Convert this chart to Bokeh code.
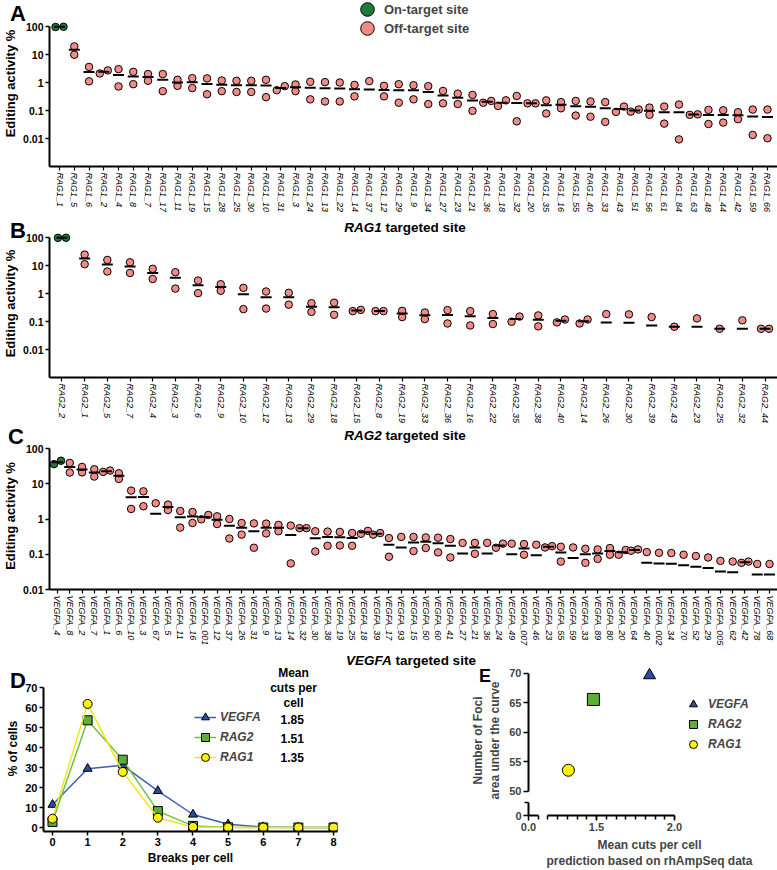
import numpy as np
from bokeh.plotting import figure
from bokeh.layouts import column, row
from bokeh.models import (FactorRange, Range1d, FixedTicker, CustomJSTickFormatter, LinearAxis,
                          Label, Legend, LegendItem, Div)
from bokeh.embed import file_html
from bokeh.resources import INLINE

FONT = "Liberation Sans"
PINK = "#f28b86"
ONT = "#1f7b3d"
NAN = float("nan")

# ---------------- Panel A data ----------------
rag1_sites = ["RAG1_1", "RAG1_5", "RAG1_6", "RAG1_2", "RAG1_4", "RAG1_8", "RAG1_7", "RAG1_17",
              "RAG1_11", "RAG1_19", "RAG1_15", "RAG1_28", "RAG1_25", "RAG1_30", "RAG1_10", "RAG1_31",
              "RAG1_3", "RAG1_24", "RAG1_13", "RAG1_22", "RAG1_14", "RAG1_37", "RAG1_12", "RAG1_29",
              "RAG1_9", "RAG1_34", "RAG1_27", "RAG1_23", "RAG1_21", "RAG1_36", "RAG1_18", "RAG1_32",
              "RAG1_20", "RAG1_35", "RAG1_16", "RAG1_55", "RAG1_40", "RAG1_33", "RAG1_43", "RAG1_51",
              "RAG1_56", "RAG1_61", "RAG1_84", "RAG1_63", "RAG1_48", "RAG1_44", "RAG1_42", "RAG1_59",
              "RAG1_66"]
rag1_rep1 = [96, 19.5, 3.6, 2.1, 3.0, 2.4, 2.0, 2.0, 1.25, 1.43, 1.4, 1.18, 1.15, 1.15, 1.25, 0.53,
             0.85, 1.06, 1.03, 1.0, 0.82, 1.12, 0.76, 0.87, 0.8, 0.74, 0.5, 0.4, 0.36, 0.19, 0.146, 0.33,
             0.18, 0.23, 0.12, 0.22, 0.21, 0.2, 0.089, 0.091, 0.127, 0.138, 0.163, 0.07, 0.105, 0.102,
             0.087, 0.108, 0.108]
rag1_rep2 = [98, 9.8, 1.1, 2.7, 0.72, 0.87, 1.15, 0.49, 0.76, 0.63, 0.38, 0.49, 0.46, 0.46, 0.3, 0.74,
             0.49, 0.25, 0.21, 0.21, 0.32, 0.0, 0.32, 0.19, 0.25, 0.17, 0.18, 0.17, 0.097, 0.22, 0.23, 0.041,
             0.18, 0.078, 0.2, 0.066, 0.06, 0.039, 0.138, 0.108, 0.07, 0.034, 0.0093, 0.073, 0.033, 0.037,
             0.049, 0.0134, 0.0102]

# ---------------- Panel B data ----------------
rag2_sites = ["RAG2_2", "RAG2_1", "RAG2_5", "RAG2_7", "RAG2_4", "RAG2_3", "RAG2_6", "RAG2_9",
              "RAG2_10", "RAG2_12", "RAG2_13", "RAG2_29", "RAG2_18", "RAG2_15", "RAG2_8", "RAG2_19",
              "RAG2_33", "RAG2_36", "RAG2_16", "RAG2_22", "RAG2_35", "RAG2_38", "RAG2_40", "RAG2_14",
              "RAG2_26", "RAG2_30", "RAG2_39", "RAG2_43", "RAG2_23", "RAG2_25", "RAG2_32", "RAG2_44"]
rag2_rep1 = [97, 24.5, 15.8, 13.0, 7.6, 5.75, 2.9, 2.15, 1.59, 1.18, 1.06, 0.45, 0.47, 0.235, 0.235,
             0.24, 0.21, 0.255, 0.235, 0.184, 0.098, 0.165, 0.093, 0.085, 0.184, 0.18, 0.144, 0.065,
             0.129, 0.055, 0.11, 0.055]
rag2_rep2 = [98, 11.1, 6.1, 5.4, 3.3, 1.5, 1.03, 1.25, 0.277, 0.29, 0.4, 0.22, 0.174, 0.26, 0.235,
             0.144, 0.122, 0.085, 0.072, 0.081, 0.15, 0.067, 0.118, 0.118, 0.0, 0.0, 0.0, NAN,
             0.0, NAN, 0.0, 0.055]

# ---------------- Panel C data ----------------
vegfa_sites = ["VEGFA_4", "VEGFA_8", "VEGFA_2", "VEGFA_7", "VEGFA_1", "VEGFA_6", "VEGFA_10", "VEGFA_3",
               "VEGFA_67", "VEGFA_5", "VEGFA_11", "VEGFA_16", "VEGFA_001", "VEGFA_12", "VEGFA_37",
               "VEGFA_26", "VEGFA_31", "VEGFA_9", "VEGFA_13", "VEGFA_14", "VEGFA_32", "VEGFA_30",
               "VEGFA_38", "VEGFA_19", "VEGFA_25", "VEGFA_18", "VEGFA_39", "VEGFA_17", "VEGFA_93",
               "VEGFA_15", "VEGFA_50", "VEGFA_60", "VEGFA_41", "VEGFA_27", "VEGFA_21", "VEGFA_36",
               "VEGFA_24", "VEGFA_49", "VEGFA_007", "VEGFA_46", "VEGFA_23", "VEGFA_55", "VEGFA_59",
               "VEGFA_33", "VEGFA_89", "VEGFA_80", "VEGFA_20", "VEGFA_64", "VEGFA_40", "VEGFA_002",
               "VEGFA_34", "VEGFA_70", "VEGFA_52", "VEGFA_29", "VEGFA_005", "VEGFA_62", "VEGFA_42",
               "VEGFA_78", "VEGFA_68"]
vegfa_rep1 = [36, 39, 30, 25.8, 21.7, 19.9, 6.4, 6.1, 2.8, 2.56, 1.69, 1.58, 0.98, 1.19, 1.0, 0.77,
              0.75, 0.74, 0.68, 0.65, 0.55, 0.45, 0.44, 0.43, 0.40, 0.38, 0.36, 0.288, 0.31, 0.31, 0.30,
              0.295, 0.27, 0.21, 0.21, 0.21, 0.153, 0.2, 0.195, 0.186, 0.156, 0.163, 0.156, 0.143, 0.137,
              0.15, 0.097, 0.126, 0.115, 0.11, 0.108, 0.097, 0.089, 0.081, 0.065, 0.062, 0.057, 0.053,
              0.053]
vegfa_rep2 = [45, 20.8, 21, 16, 23.7, 13.7, 1.93, 2.3, 0.0, 1.8, 0.57, 0.77, 1.3, 0.72, 0.28, 0.36,
              0.153, 0.39, 0.45, 0.055, 0.55, 0.12, 0.174, 0.178, 0.174, 0.46, 0.40, 0.085, 0.0, 0.123,
              0.15, 0.113, 0.081, 0.0, 0.103, 0.0, 0.2, 0.0, 0.097, 0.0, 0.17, 0.062, 0.0, 0.057, 0.074,
              0.097, 0.132, 0.137, 0.0, 0.0, 0.0, 0.0, 0.0, 0.0, 0.0, 0.0, 0.062, 0.0, 0.0]

# ---------------- Panel D data ----------------
breaks = [0, 1, 2, 3, 4, 5, 6, 7, 8]
vegfa_pct = [11.4, 29.4, 31.1, 18.3, 6.5, 1.6, 0.2, 0.0, 0.0]
rag2_pct = [2.8, 53.6, 33.9, 8.2, 0.8, 0.1, 0.0, 0.0, 0.0]
rag1_pct = [4.4, 61.8, 27.8, 4.9, 0.3, 0.0, 0.0, 0.0, 0.0]
genes = ["VEGFA", "RAG2", "RAG1"]
mean_cuts_text = ["1.85", "1.51", "1.35"]

# ---------------- Panel E data ----------------
e_mean_cuts = [1.84, 1.48, 1.32]
e_foci_auc = [69.7, 65.6, 53.6]

line_colors = {"VEGFA": "#3d5fb4", "RAG2": "#72bf45", "RAG1": "#f2e41e"}
fill_colors = {"VEGFA": "#2c4c9c", "RAG2": "#5cae3a", "RAG1": "#fff200"}
markers = {"VEGFA": "triangle", "RAG2": "square", "RAG1": "circle"}

FRAME_W = 728
LEFT = 44
RIGHT = 3


def style(p, tick_font="10.5px", label_font="13px"):
    p.outline_line_color = None
    p.grid.visible = False
    for ax in p.axis:
        ax.axis_line_width = 2
        ax.axis_line_color = "black"
        ax.major_tick_line_width = 1.5
        ax.major_tick_line_color = "black"
        ax.major_tick_in = 0
        ax.major_tick_out = 4
        ax.minor_tick_line_color = None
        ax.major_label_text_font = FONT
        ax.major_label_text_font_style = "bold"
        ax.major_label_text_font_size = tick_font
        ax.major_label_text_color = "black"
        ax.axis_label_text_font = FONT
        ax.axis_label_text_font_style = "bold"
        ax.axis_label_text_font_size = label_font
        ax.axis_label_text_color = "black"
        ax.major_label_standoff = 2
        ax.axis_label_standoff = 2


def add_text(p, x, y, text, size="12px", style_="bold", align="left", baseline="middle"):
    p.add_layout(Label(x=x, y=y, x_units="screen", y_units="screen", text=text,
                       text_font=FONT, text_font_size=size, text_font_style=style_,
                       text_align=align, text_baseline=baseline, text_color="black",
                       text_line_height=1.1))


def site_panel(sites, rep1, rep2, y_min, decade_px, top_ext, top_b, bottom_b, pad, dodge_px, thr):
    n = len(sites)
    decades = 2 - np.log10(y_min)
    frame_h = int(round(decades * decade_px + top_ext))
    y_max = 10 ** (2 + top_ext / decade_px)
    p = figure(x_range=FactorRange(factors=sites, range_padding=pad, range_padding_units="absolute"),
               y_range=Range1d(y_min, y_max), y_axis_type="log",
               frame_width=FRAME_W, frame_height=frame_h,
               min_border_left=LEFT, min_border_right=RIGHT, min_border_top=top_b,
               min_border_bottom=bottom_b, output_backend="svg", toolbar_location=None)
    style(p)
    d = dodge_px * (n + 2 * pad) / FRAME_W
    on_x, on_y, off_x, off_y, mx, my = [], [], [], [], [], []
    for i, (a, b) in enumerate(zip(rep1, rep2)):
        c = i + 0.5
        vals = [v for v in (a, b) if not np.isnan(v)]
        mx.append(c)
        my.append(float(np.mean(vals)))
        pos = sorted(v for v in vals if v > 0)
        if len(pos) == 2 and abs(np.log10(pos[1]) - np.log10(pos[0])) < thr:
            xx = [c - d, c + d]
        else:
            xx = [c] * len(pos)
        if i == 0:
            on_x += xx
            on_y += pos
        else:
            off_x += xx
            off_y += pos
    r_on = p.scatter(on_x, on_y, size=7.5, fill_color=ONT, line_color="black", line_width=1)
    r_off = p.scatter(off_x, off_y, size=7.5, fill_color=PINK, line_color="black", line_width=1)
    p.scatter(mx, my, marker="dash", size=11, line_color="black", line_width=2)

    p.yaxis.ticker = FixedTicker(ticks=[t for t in [0.01, 0.1, 1, 10, 100] if t >= y_min])
    p.yaxis.formatter = CustomJSTickFormatter(code="return tick.toString();")
    p.yaxis.bounds = (y_min, 100)
    p.yaxis.axis_label = "Editing activity %"
    p.xaxis.major_label_orientation = "vertical"
    p.xaxis.major_label_text_font_size = "9px"
    p.xaxis.major_label_text_font_style = "italic"
    p.xaxis.major_tick_out = 4
    p.xaxis.major_tick_line_width = 1.2
    return p, r_on, r_off


def one_item_legend(label, renderer, loc):
    return Legend(items=[LegendItem(label=label, renderers=[renderer])],
                  location=loc, glyph_width=34, glyph_height=34,
                  label_text_font=FONT, label_text_font_size="13px", label_text_font_style="bold",
                  label_standoff=0, padding=0, margin=0, border_line_color=None,
                  background_fill_alpha=0)


# A: frame spans page y 0..166 (100 at y=26)
pA, a_on, a_off = site_panel(rag1_sites, rag1_rep1, rag1_rep2, 0.001, 28, 26, 0, 54, 0.18, 4.0, 0.2)
pA.add_layout(one_item_legend("On-target site", a_on, (301, 140)))
pA.add_layout(one_item_legend("Off-target site", a_off, (301, 121)))

# B: page 220..427, frame 229..377
pB, _, _ = site_panel(rag2_sites, rag2_rep1, rag2_rep2, 0.001, 28, 8, 9, 50, 0.05, 4.0, 0.2)

# C: page 427..648, frame 442..589
pC, _, _ = site_panel(vegfa_sites, vegfa_rep1, vegfa_rep2, 0.01, 35.25, 6, 15, 59, 0.15, 3.5, 0.145)

# ---------------- Panel D ----------------
D_FW, D_FH = 294, 166
pD = figure(x_range=Range1d(-0.256, 8.114), y_range=Range1d(-2, 81),
            frame_width=D_FW, frame_height=D_FH, min_border_left=43, min_border_right=50,
            min_border_top=17, min_border_bottom=35, output_backend="svg", toolbar_location=None)
style(pD, tick_font="11px", label_font="12px")
series = {"VEGFA": vegfa_pct, "RAG2": rag2_pct, "RAG1": rag1_pct}
items = []
for g in genes:
    lr = pD.line(breaks, series[g], line_color=line_colors[g], line_width=1.5)
    sr = pD.scatter(breaks, series[g], marker=markers[g], size=9, fill_color=fill_colors[g],
                    line_color="black", line_width=1)
    items.append(LegendItem(label=g, renderers=[lr, sr]))
pD.xaxis.ticker = FixedTicker(ticks=breaks)
pD.yaxis.ticker = FixedTicker(ticks=list(range(0, 71, 10)))
pD.yaxis.bounds = (-2, 70)
pD.xaxis.axis_label = "Breaks per cell"
pD.yaxis.axis_label = "% of cells"
legD = Legend(items=items, location=(151, 64), glyph_width=22, glyph_height=20, spacing=-1,
              label_text_font=FONT, label_text_font_size="12px", label_text_font_style="bold italic",
              label_standoff=4, padding=0, margin=0, border_line_color=None, background_fill_alpha=0)
pD.add_layout(legD)
for k, t in enumerate(mean_cuts_text):
    add_text(pD, 237, 112 - k * 19, t, size="12px")
add_text(pD, 250, 166, "Mean\ncuts per\ncell", size="12px", align="center", baseline="top")

# ---------------- Panel E (broken axes) ----------------
E_FW, E_FH = 242, 150
XPX = 156.0
YPX = 5.9
x0 = round(1.5 - 68 / XPX, 4)
y0 = round(50 - 24 / YPX, 4)
pE = figure(x_range=Range1d(x0, x0 + E_FW / XPX), y_range=Range1d(y0, y0 + E_FH / YPX),
            frame_width=E_FW, frame_height=E_FH, min_border_left=141, min_border_right=5,
            min_border_top=15, min_border_bottom=52, x_axis_location=None, y_axis_location=None,
            output_backend="svg", toolbar_location=None)
pE.outline_line_color = None
pE.grid.visible = False


def seg_axis(bounds):
    return LinearAxis(ticker=FixedTicker(ticks=[]), bounds=bounds, axis_line_width=2,
                      axis_line_color="black", major_tick_out=0, major_tick_in=0,
                      minor_tick_out=0, minor_tick_in=0, major_label_standoff=0,
                      major_label_text_font_size="0px", axis_label=None)


def main_axis(ticks, minor, bounds, code, label):
    return LinearAxis(ticker=FixedTicker(ticks=ticks, minor_ticks=minor), bounds=bounds,
                      formatter=CustomJSTickFormatter(code=code), axis_line_color=None,
                      major_tick_out=5, major_tick_in=0, major_tick_line_width=1.5,
                      major_tick_line_color="black", minor_tick_out=4, minor_tick_in=0,
                      minor_tick_line_width=1.5, minor_tick_line_color="black",
                      major_label_text_font=FONT, major_label_text_font_style="bold",
                      major_label_text_font_size="11px", major_label_standoff=2,
                      axis_label=label, axis_label_text_font=FONT,
                      axis_label_text_font_style="bold", axis_label_text_font_size="12px",
                      axis_label_standoff=4)


x_minor = [x0 + 10 / XPX] + [1.1875 + 0.0625 * k for k in range(14)]
pE.add_layout(seg_axis((x0, x0 + 10 / XPX)), "below")
pE.add_layout(seg_axis((1.1875, 2.0)), "below")
pE.add_layout(main_axis([x0, 1.5, 2.0], x_minor, (x0, 2.0),
                        "return tick < 1.2 ? '0.0' : tick.toFixed(1);",
                        "Mean cuts per cell\nprediction based on rhAmpSeq data"), "below")
pE.add_layout(seg_axis((y0, y0 + 13 / YPX)), "left")
pE.add_layout(seg_axis((50, 70)), "left")
pE.add_layout(main_axis([y0, 50, 55, 60, 65, 70], [y0 + 13 / YPX], (y0, 70),
                        "return tick < 48 ? '0' : tick.toFixed(0);",
                        "Number of Foci\narea under the curve"), "left")

e_items = []
for k, g in enumerate(genes):
    r = pE.scatter([e_mean_cuts[k]], [e_foci_auc[k]], marker=markers[g], size=12,
                   fill_color=fill_colors[g], line_color="black", line_width=1)
    e_items.append(LegendItem(label=g, renderers=[r]))
legE = Legend(items=e_items, location=(155, 61), glyph_width=20, glyph_height=20, spacing=0,
              label_text_font=FONT, label_text_font_size="12px", label_text_font_style="bold italic",
              label_standoff=5, padding=0, margin=0, border_line_color=None, background_fill_alpha=0)
pE.add_layout(legE)

# ---------------- Panel letters and x titles (HTML text overlay) ----------------
def abs_text(left, top, html, size, width=None, align="left"):
    w = f"width:{width}px;text-align:{align};" if width else ""
    return (f'<div style="position:absolute;left:{left}px;top:{top}px;{w}'
            f"font-family:'{FONT}';font-weight:bold;font-size:{size}px;line-height:1;"
            f'white-space:nowrap;color:#000;">{html}</div>')


overlay_html = "".join([
    abs_text(5, -2, "A", 22),
    abs_text(5, 215, "B", 22),
    abs_text(3, 421, "C", 22),
    abs_text(5, 665, "D", 22),
    abs_text(474, 662, "E", 18),
    abs_text(36, 216, "<i>RAG1</i> targeted site", 13.5, 728, "center"),
    abs_text(36, 424, "<i>RAG2</i> targeted site", 13.5, 728, "center"),
    abs_text(42, 649, "<i>VEGFA</i> targeted site", 13.5, 728, "center"),
])
overlay = Div(text=overlay_html, width=777, height=860,
              styles={"position": "absolute", "left": "0px", "top": "0px",
                      "pointer-events": "none", "overflow": "visible"})

layout = column(pA, pB, pC, row(pD, pE), overlay)
open("out.html", "w").write(file_html(layout, INLINE))
